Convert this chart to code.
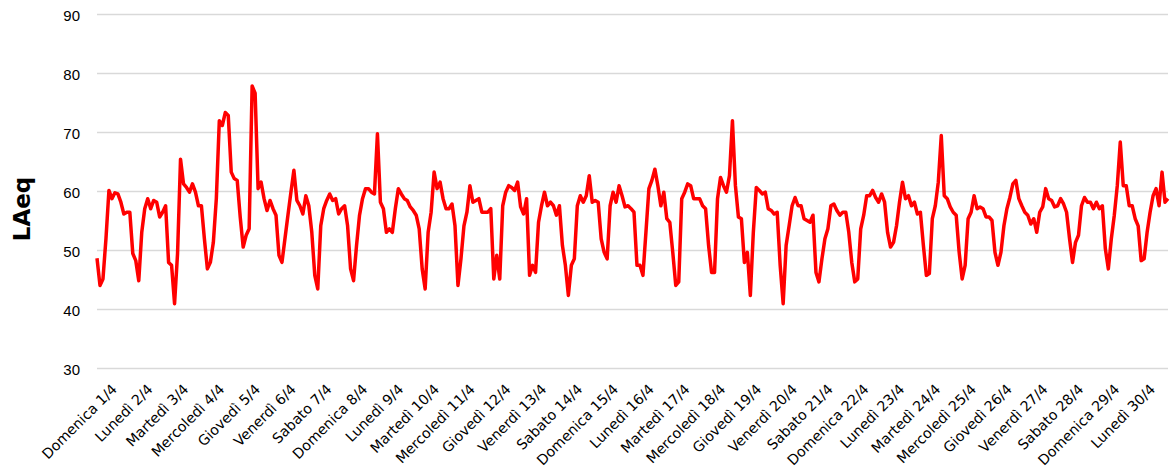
<!DOCTYPE html>
<html lang="it">
  <head>
    <meta charset="utf-8" />
    <title>LAeq aprile</title>
    <script type="text/javascript" src="https://d3js.org/d3.v7.min.js"></script>
    <style>
      body { margin: 0; background: #fff; }
    </style>
  </head>
  <body>
    <div id="graph"></div>

    <script type="text/javascript">
      /********************************
       * data (one value every 2 hours, 12 per day)
       ********************************/

      const dayLabels = [
        "Domenica 1/4", "Lunedì 2/4", "Martedì 3/4", "Mercoledì 4/4", "Giovedì 5/4",
        "Venerdì 6/4", "Sabato 7/4", "Domenica 8/4", "Lunedì 9/4", "Martedì 10/4",
        "Mercoledì 11/4", "Giovedì 12/4", "Venerdì 13/4", "Sabato 14/4", "Domenica 15/4",
        "Lunedì 16/4", "Martedì 17/4", "Mercoledì 18/4", "Giovedì 19/4", "Venerdì 20/4",
        "Sabato 21/4", "Domenica 22/4", "Lunedì 23/4", "Martedì 24/4", "Mercoledì 25/4",
        "Giovedì 26/4", "Venerdì 27/4", "Sabato 28/4", "Domenica 29/4", "Lunedì 30/4",
      ];

      const yTicks = [30, 40, 50, 60, 70, 80, 90];

      const laeq = [
        [48.6, 44.0, 45.1, 51.9, 60.1, 58.7, 59.7, 59.5, 58.1, 56.1, 56.4, 56.4],
        [49.4, 48.2, 44.8, 53.0, 57.0, 58.7, 57.0, 58.4, 58.1, 55.6, 56.4, 57.5],
        [47.9, 47.4, 40.9, 49.4, 65.4, 61.2, 60.6, 59.8, 61.2, 59.8, 57.5, 57.5],
        [51.9, 46.8, 47.9, 51.3, 58.7, 71.9, 71.1, 73.3, 72.8, 63.2, 62.1, 61.8],
        [55.6, 50.5, 52.5, 53.6, 77.8, 76.6, 60.4, 61.5, 58.7, 56.7, 58.4, 57.0],
        [55.9, 49.1, 47.9, 51.9, 55.9, 59.8, 63.5, 58.4, 57.5, 56.1, 59.2, 57.5],
        [53.0, 45.7, 43.4, 54.1, 57.0, 58.4, 59.5, 58.4, 58.7, 56.1, 57.0, 57.5],
        [54.1, 46.8, 44.8, 50.8, 55.9, 58.7, 60.4, 60.4, 59.8, 59.5, 69.7, 58.1],
        [57.0, 53.0, 53.6, 53.0, 57.0, 60.4, 59.5, 58.7, 58.4, 57.3, 56.7, 55.9],
        [53.6, 46.8, 43.4, 53.0, 56.4, 63.2, 60.4, 61.5, 58.7, 57.0, 57.0, 57.8],
        [54.1, 44.0, 48.5, 54.1, 56.4, 60.9, 58.1, 58.4, 58.7, 56.4, 56.4, 56.4],
        [57.0, 45.1, 49.1, 45.1, 57.5, 59.8, 60.9, 60.6, 60.1, 61.5, 57.3, 56.1],
        [58.7, 45.7, 47.4, 46.2, 54.7, 57.5, 59.8, 57.5, 58.1, 57.5, 55.9, 57.5],
        [50.8, 47.4, 42.3, 47.4, 48.5, 57.5, 59.2, 58.1, 59.2, 62.6, 58.1, 58.4],
        [58.1, 51.9, 49.6, 48.5, 57.5, 59.8, 58.1, 60.9, 59.2, 57.3, 57.5, 57.0],
        [56.4, 47.4, 47.4, 45.7, 53.0, 60.4, 61.8, 63.7, 60.9, 57.5, 59.8, 55.3],
        [54.7, 49.6, 44.0, 44.6, 58.7, 59.8, 61.2, 60.9, 58.7, 58.7, 58.7, 57.5],
        [57.0, 50.8, 46.2, 46.2, 58.7, 62.3, 60.9, 59.8, 62.6, 71.9, 60.9, 55.6],
        [55.3, 47.9, 49.6, 42.3, 53.0, 60.6, 60.1, 59.5, 59.8, 57.0, 56.7, 56.1],
        [56.4, 47.4, 40.9, 50.8, 54.1, 57.5, 58.9, 57.5, 57.5, 55.3, 55.0, 54.7],
        [55.9, 46.2, 44.6, 48.5, 51.9, 53.6, 57.5, 57.8, 56.7, 55.9, 56.4, 56.4],
        [53.0, 47.9, 44.6, 45.1, 53.6, 55.9, 59.2, 59.2, 60.1, 58.9, 58.1, 59.5],
        [58.1, 53.0, 50.5, 51.3, 54.1, 58.1, 61.5, 58.7, 59.2, 57.5, 58.1, 56.1],
        [56.4, 50.8, 45.7, 46.0, 55.3, 57.5, 61.5, 69.4, 59.2, 58.7, 57.3, 56.4],
        [55.9, 49.6, 45.1, 47.4, 55.3, 56.4, 59.2, 57.0, 57.3, 57.0, 55.6, 55.6],
        [55.0, 49.6, 47.4, 49.6, 54.1, 57.0, 58.9, 61.2, 61.8, 58.7, 57.5, 56.4],
        [55.9, 54.4, 55.3, 53.0, 56.4, 57.3, 60.4, 58.7, 58.4, 57.3, 57.5, 58.7],
        [57.8, 56.4, 51.9, 47.9, 51.3, 52.5, 57.5, 58.9, 58.1, 58.1, 57.0, 58.1],
        [57.0, 57.5, 50.2, 46.8, 51.9, 55.9, 60.9, 68.3, 60.9, 60.9, 57.5, 57.5],
        [55.3, 54.1, 48.2, 48.5, 53.0, 56.4, 59.2, 60.4, 57.5, 63.2, 58.1, 58.7],
      ];

      const stepHours = 2;
      const points = laeq.flatMap((day, d) =>
        day.map((v, i) => ({ hour: d * 24 + i * stepHours, value: v }))
      );

      /***************************
       * svg
       **************************/

      const width = 1171;
      const height = 472;
      const margin = { top: 14, right: 3, bottom: 104, left: 97 };

      const svg = d3
        .select("div#graph")
        .append("svg")
        .attr("width", width)
        .attr("height", height)
        .style("font-family", "'DejaVu Sans', Verdana, sans-serif");

      /****************************
       * scales
       *************************/

      const xScale = d3
        .scaleLinear()
        .domain([0, 30 * 24 - stepHours])
        .range([margin.left, width - margin.right]);

      const yScale = d3
        .scaleLinear()
        .domain([30, 90])
        .range([height - margin.bottom, margin.top]);

      /*********************************
       * gridlines + y labels
       *******************************/

      const yAxis = d3
        .axisLeft(yScale)
        .tickValues(yTicks)
        .tickSize(-(width - margin.left - margin.right))
        .tickPadding(17);

      const yAxisGroup = svg
        .append("g")
        .attr("class", "y axis")
        .attr("transform", `translate(${margin.left},0)`)
        .call(yAxis);

      yAxisGroup.select(".domain").remove();
      yAxisGroup.selectAll(".tick line").attr("stroke", "#d9d9d9").attr("stroke-width", 1.3);
      yAxisGroup
        .selectAll(".tick text")
        .attr("fill", "#000")
        .attr("dy", "0.4em")
        .style("font-size", "15px");

      // x category labels, centred on each day
      svg
        .append("g")
        .attr("class", "x labels")
        .selectAll("text")
        .data(dayLabels)
        .enter()
        .append("text")
        .attr("transform", (d, i) => `translate(${xScale(i * 24 + 12) + 3},390) rotate(-45)`)
        .attr("text-anchor", "end")
        .style("font-size", "14.2px")
        .attr("fill", "#000")
        .text((d) => d);

      // y title
      svg
        .append("text")
        .attr("transform", `translate(30,209) rotate(-90)`)
        .attr("text-anchor", "middle")
        .style("font-size", "23px")
        .style("font-weight", "bold")
        .text("LAeq");

      /********************************
       * line
       * *******************************/

      const line = d3
        .line()
        .x((d) => xScale(d.hour))
        .y((d) => yScale(d.value));

      svg
        .append("path")
        .datum(points)
        .attr("d", line)
        .attr("fill", "none")
        .attr("stroke", "#ff0000")
        .attr("stroke-width", 3.5)
        .attr("stroke-linejoin", "round");
    </script>
  </body>
</html>
